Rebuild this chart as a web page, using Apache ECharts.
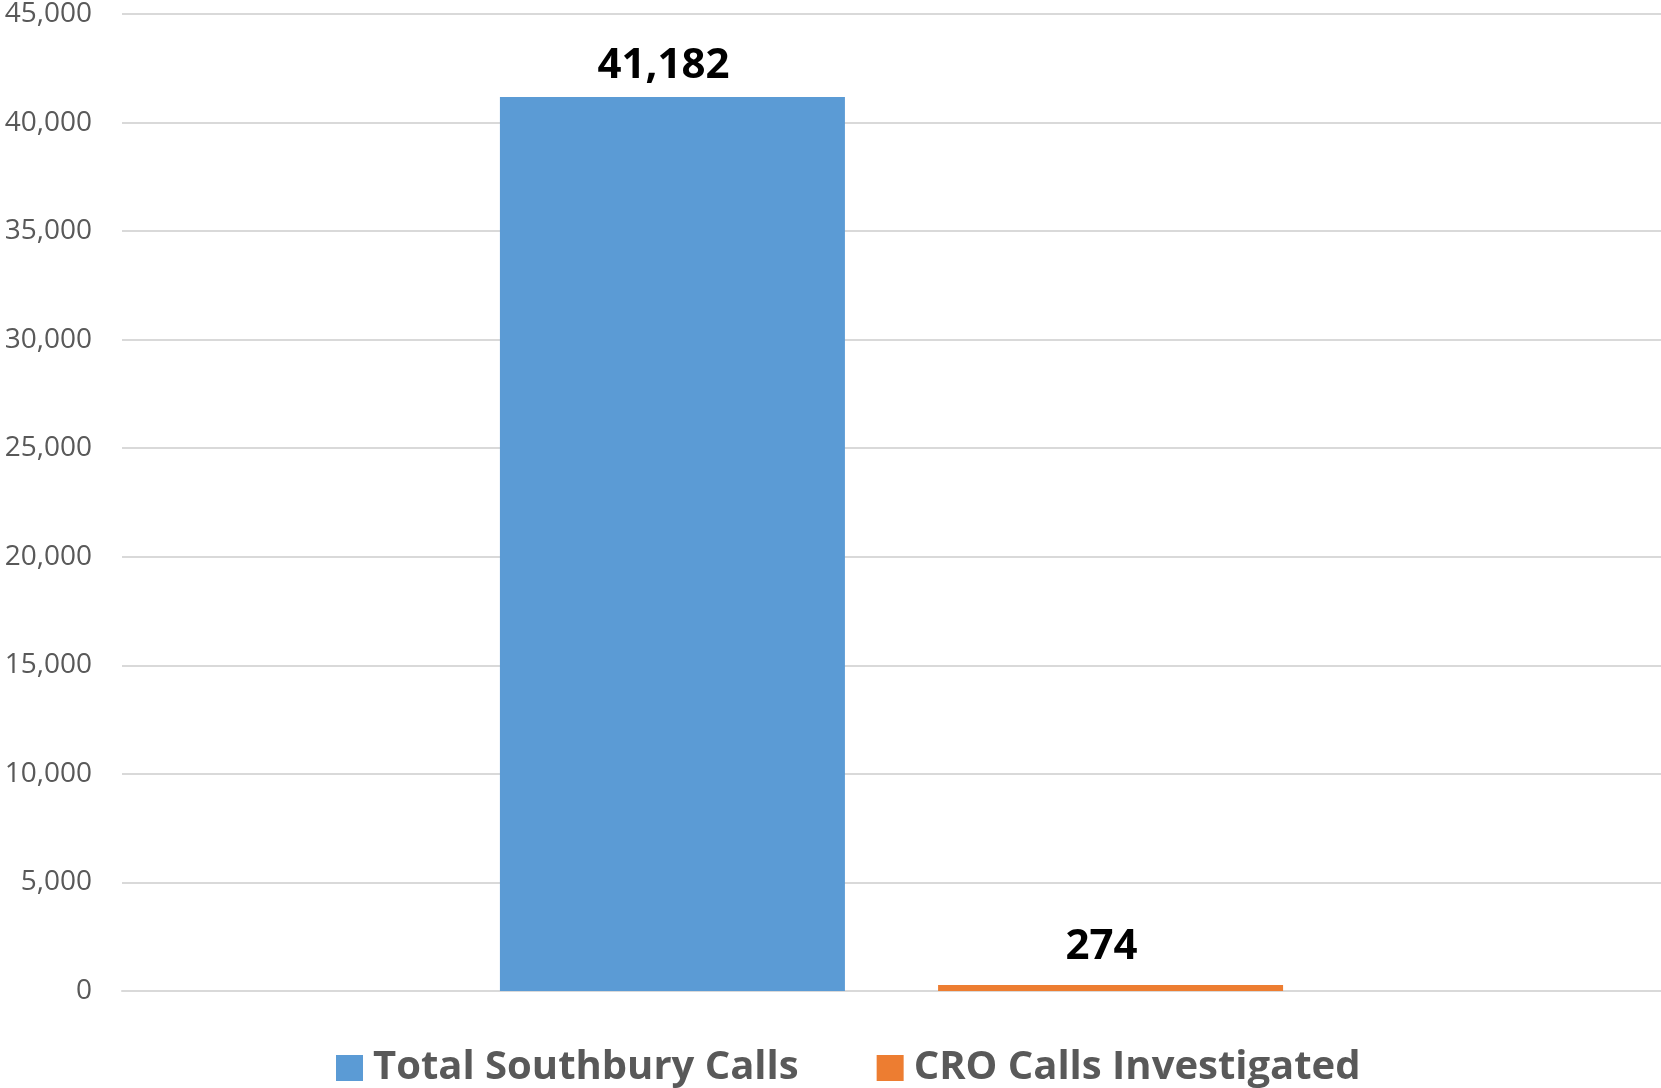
<!DOCTYPE html>
<html>
<head>
<meta charset="utf-8">
<script src="https://cdn.jsdelivr.net/npm/echarts@6/dist/echarts.min.js"></script>
<style>
	html, body { margin: 0; padding: 0; background: #fff; }
	#chart { width: 1661px; height: 1088px; }
</style>
</head>
<body>
<div id="chart"></div>
<script>
	// data
	var categories = [ '' ];
	var seriesNames = [ 'Total Southbury Calls', 'CRO Calls Investigated' ];
	var totalCalls = [ 41182 ];
	var croCalls = [ 274 ];
	var yTicks = { min : 0, max : 45000, interval : 5000 };

	var colors = [ '#5B9BD5', '#ED7D31' ];
	var font = '"Open Sans", "DejaVu Sans", sans-serif';

	function fmt(v) {
		return Number(v).toLocaleString('en-US');
	}

	// label on top of a bar, nudged a bit like the original
	function barLabel(dy) {
		return {
			show : true,
			position : 'top',
			distance : 8,
			offset : [ -9, dy ],
			color : '#000',
			fontFamily : font,
			fontWeight : 'bold',
			fontSize : 42,
			formatter : function(p) {
				return fmt(p.value);
			}
		};
	}

	var myChart = echarts.init(document.getElementById('chart'));
	var option = {
		animation : false,
		color : colors,
		grid : {
			left : 122,
			right : 0,
			top : 14,
			bottom : 97
		},
		legend : {
			bottom : -5,
			left : 331,
			itemWidth : 27,
			itemHeight : 26,
			itemGap : 78,
			icon : 'rect',
			textStyle : {
				color : '#595959',
				fontFamily : font,
				fontWeight : 'bold',
				fontSize : 40,
				padding : [ 0, 0, 0, 5 ]
			},
			data : seriesNames
		},
		xAxis : {
			type : 'category',
			data : categories,
			axisTick : { show : false },
			axisLabel : { show : false },
			axisLine : {
				lineStyle : { color : '#d9d9d9', width : 2 }
			}
		},
		yAxis : {
			type : 'value',
			min : yTicks.min,
			max : yTicks.max,
			interval : yTicks.interval,
			axisLine : { show : false },
			axisTick : { show : false },
			axisLabel : {
				margin : 30,
				color : '#595959',
				fontFamily : font,
				fontSize : 28,
				formatter : fmt
			},
			splitLine : {
				lineStyle : { color : '#d9d9d9', width : 2 }
			}
		},
		series : [ {
			name : seriesNames[0],
			type : 'bar',
			data : totalCalls,
			barWidth : 345,
			barGap : '27%',
			label : barLabel(-2)
		}, {
			name : seriesNames[1],
			type : 'bar',
			data : croCalls,
			barWidth : 345,
			barGap : '27%',
			label : barLabel(-9)
		} ]
	};
	myChart.setOption(option);
</script>
</body>
</html>
